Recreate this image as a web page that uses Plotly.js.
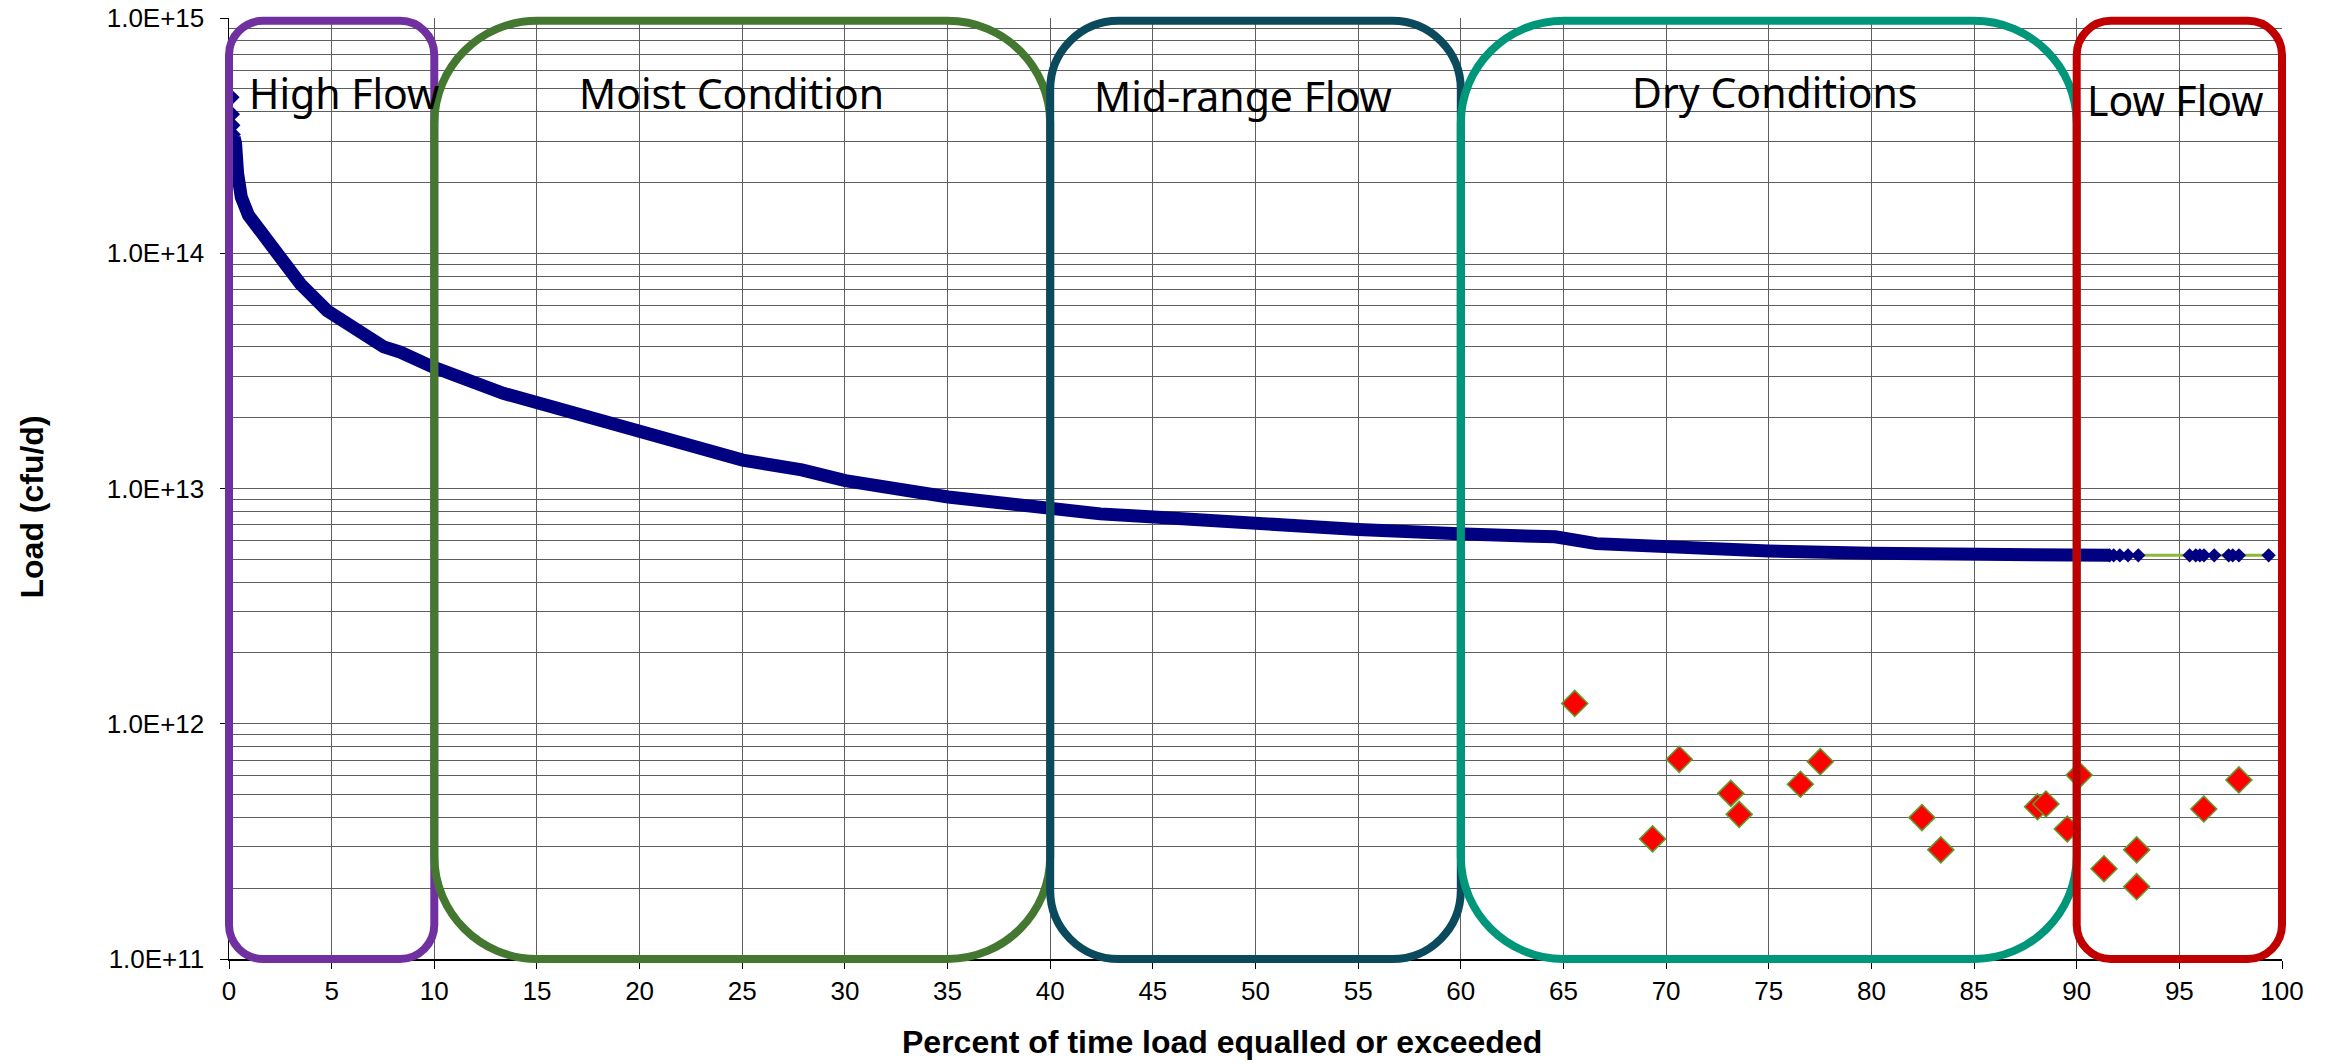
<!DOCTYPE html>
<html><head><meta charset="utf-8">
<script src="https://cdn.plot.ly/plotly-3.0.1.min.js"></script>
<style>html,body{margin:0;padding:0;background:#fff;} #chart{width:2330px;height:1064px;}</style>
</head><body><div id="chart"></div>
<script>
// ---- data ----
const curveX = [0.25, 0.32, 0.42, 0.60, 0.95, 1.70, 2.67, 3.48, 4.78, 5.91, 7.54, 8.34, 9.91, 13.36, 16.4, 20.03, 25.02, 27.9, 30.02, 35.03, 40.09, 42.44, 45.04, 50.0, 55.0, 60.2, 64.6, 66.6, 70.0, 75.0, 80.0, 83.8, 88.0, 91.6];
const curveY = [3.1e14, 2.93e14, 2.18e14, 1.73e14, 1.45e14, 1.19e14, 9.3e13, 7.4e13, 5.7e13, 4.9e13, 4.0e13, 3.8e13, 3.29e13, 2.54e13, 2.15e13, 1.71e13, 1.32e13, 1.20e13, 1.08e13, 9.2e12, 8.2e12, 7.8e12, 7.57e12, 7.05e12, 6.69e12, 6.40e12, 6.23e12, 5.83e12, 5.61e12, 5.42e12, 5.30e12, 5.26e12, 5.22e12, 5.2e12];
const peakX = [0.17, 0.19, 0.21, 0.23];
const peakY = [4.6e14, 3.9e14, 3.5e14, 3.2e14];
const tailX = [91.6, 91.8, 92.1, 92.5, 93.0, 95.5, 95.8, 96.0, 96.2, 96.7, 97.4, 97.6, 97.9, 99.35];
const tailY = [5.2e12, 5.2e12, 5.2e12, 5.2e12, 5.2e12, 5.2e12, 5.2e12, 5.2e12, 5.2e12, 5.2e12, 5.2e12, 5.2e12, 5.2e12, 5.2e12];
const obsX = [65.55, 69.34, 70.64, 73.15, 73.56, 76.54, 77.51, 82.46, 83.38, 88.09, 88.50, 89.54, 90.12, 91.33, 92.92, 92.92, 96.19, 97.90];
const obsY = [1.22e12, 3.24e11, 7.06e11, 5.06e11, 4.12e11, 5.53e11, 6.90e11, 3.99e11, 2.91e11, 4.44e11, 4.56e11, 3.57e11, 6.05e11, 2.42e11, 2.91e11, 2.03e11, 4.34e11, 5.77e11];
const zoneNames = ['High Flow', 'Moist Condition', 'Mid-range Flow', 'Dry Conditions', 'Low Flow'];
const zoneStart = [0, 10, 40, 60, 90];
const zoneEnd = [10, 40, 60, 90, 100];
const xTickVals = [0,5,10,15,20,25,30,35,40,45,50,55,60,65,70,75,80,85,90,95,100];
const yTickVals = [1e11, 1e12, 1e13, 1e14, 1e15];
const yTickText = ['1.0E+11', '1.0E+12', '1.0E+13', '1.0E+14', '1.0E+15'];

// ---- styling / layout config ----
const W = 2330, H = 1064;
const M = {l: 229, r: 48, t: 18, b: 105};
const plotW = W - M.l - M.r, plotH = H - M.t - M.b;
const xRange = [0, 100];
const zoneColors = ['#7030A0', '#447830', '#0B4A5C', '#00967A', '#C00000'];
const labelX = [5.6, 24.5, 49.4, 75.3, 94.8];
const labelPy = [93, 93, 96, 92.5, 100];

const minorVals = [];
for (let e = 11; e < 15; e++) for (let k = 2; k <= 9; k++) minorVals.push(k * Math.pow(10, e));

const toPaperX = v => (v - xRange[0]) / (xRange[1] - xRange[0]);

function roundedRect(x0, x1, y0, y1, rpx) {
  const rx = rpx / plotW, ry = rpx / plotH, k = 0.5523;
  const f = v => v.toFixed(5);
  return 'M' + f(x0 + rx) + ',' + f(y1) +
    ' L' + f(x1 - rx) + ',' + f(y1) +
    ' C' + f(x1 - rx + k * rx) + ',' + f(y1) + ' ' + f(x1) + ',' + f(y1 - ry + k * ry) + ' ' + f(x1) + ',' + f(y1 - ry) +
    ' L' + f(x1) + ',' + f(y0 + ry) +
    ' C' + f(x1) + ',' + f(y0 + ry - k * ry) + ' ' + f(x1 - rx + k * rx) + ',' + f(y0) + ' ' + f(x1 - rx) + ',' + f(y0) +
    ' L' + f(x0 + rx) + ',' + f(y0) +
    ' C' + f(x0 + rx - k * rx) + ',' + f(y0) + ' ' + f(x0) + ',' + f(y0 + ry - k * ry) + ' ' + f(x0) + ',' + f(y0 + ry) +
    ' L' + f(x0) + ',' + f(y1 - ry) +
    ' C' + f(x0) + ',' + f(y1 - ry + k * ry) + ' ' + f(x0 + rx - k * rx) + ',' + f(y1) + ' ' + f(x0 + rx) + ',' + f(y1) + ' Z';
}

const shapes = zoneNames.map((n, i) => {
  const px0 = toPaperX(zoneStart[i]), px1 = toPaperX(zoneEnd[i]);
  const wpx = (px1 - px0) * plotW;
  const r = Math.min(wpx, plotH) / 6;
  return {
    type: 'path', xref: 'paper', yref: 'paper', layer: 'above',
    path: roundedRect(px0, px1, 0.0, 0.997, r),
    line: {color: zoneColors[i], width: 8}, fillcolor: 'rgba(0,0,0,0)'
  };
});

const annotations = zoneNames.map((n, i) => ({
  text: n, x: labelX[i], xref: 'x', y: 1 - (labelPy[i] - M.t) / plotH, yref: 'paper',
  xanchor: 'center', yanchor: 'middle', showarrow: false,
  font: {family: 'Noto Sans, sans-serif', size: 41, color: '#000'}
}));
annotations.push({
  text: '<b>Percent of time load equalled or exceeded</b>', xref: 'paper', yref: 'paper',
  x: (1222 - M.l) / plotW, y: -(1042 - (H - M.b)) / plotH, xanchor: 'center', yanchor: 'middle',
  showarrow: false, font: {family: 'Liberation Sans, Arial, sans-serif', size: 32, color: '#000'}
});
annotations.push({
  text: '<b>Load (cfu/d)</b>', xref: 'paper', yref: 'paper', textangle: -90,
  x: (32 - M.l) / plotW, y: 1 - (507.5 - M.t) / plotH, xanchor: 'center', yanchor: 'middle',
  showarrow: false, font: {family: 'Liberation Sans, Arial, sans-serif', size: 32, color: '#000'}
});

const traces = [
  {x: curveX, y: curveY, mode: 'lines', line: {color: '#000080', width: 13}, hoverinfo: 'skip', showlegend: false},
  {x: tailX, y: tailY, mode: 'lines+markers', line: {color: '#8DB83A', width: 3},
   marker: {symbol: 'diamond', size: 11, color: '#000080'}, showlegend: false},
  {x: peakX, y: peakY, mode: 'markers', marker: {symbol: 'diamond', size: 11, color: '#000080'}, showlegend: false},
  {x: obsX, y: obsY, mode: 'markers', marker: {symbol: 'diamond', size: 20, color: '#FF0000', line: {color: '#5E9E2E', width: 1.5}}, showlegend: false}
];

const gridCol = '#5e5e5e';
const layout = {
  width: W, height: H, margin: M, paper_bgcolor: '#fff', plot_bgcolor: '#fff', showlegend: false,
  font: {family: 'Liberation Sans, Arial, sans-serif', size: 26, color: '#000'},
  xaxis: {
    range: xRange, tickmode: 'array', tickvals: xTickVals, ticks: 'outside', ticklen: 8, tickcolor: '#000',
    showgrid: true, gridcolor: gridCol, gridwidth: 1, zeroline: false,
    showline: true, linecolor: '#000', linewidth: 1.5, tickfont: {size: 26}
  },
  yaxis: {
    type: 'log', range: [11, 15], tickmode: 'array', tickvals: yTickVals, ticktext: yTickText,
    ticks: 'outside', ticklen: 8, tickcolor: '#000', showgrid: true, gridcolor: gridCol, gridwidth: 1,
    zeroline: false, showline: true, linecolor: '#000', linewidth: 1.5, tickfont: {size: 26},
    ticklabelstandoff: 10,
    minor: {tickmode: 'array', tickvals: minorVals, showgrid: true, gridcolor: gridCol, gridwidth: 1, ticks: ''}
  },
  shapes: shapes, annotations: annotations
};
Plotly.newPlot('chart', traces, layout, {displayModeBar: false, staticPlot: true});
</script></body></html>
